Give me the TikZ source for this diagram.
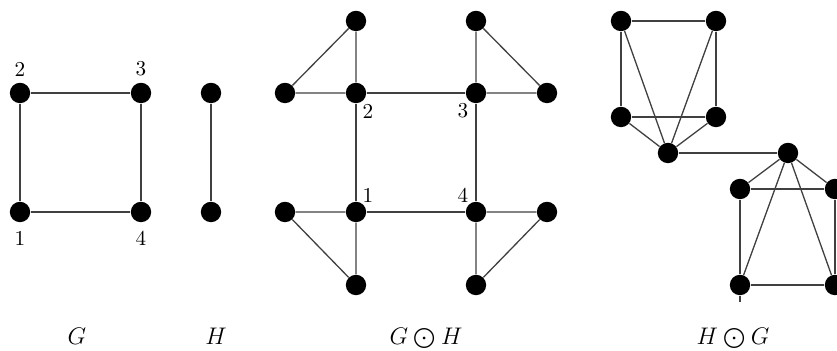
\documentclass[tikz,border=0pt]{standalone}
\begin{document}
\begin{tikzpicture}[x=0.5pt,y=-0.5pt,
  v/.style={circle,fill=black,inner sep=0pt,minimum size=10.2pt},
  e/.style={draw=black!75,line width=0.65pt},
  lab/.style={font=\fontsize{10.6}{12}\selectfont,inner sep=0pt},
  capt/.style={font=\fontsize{11.8}{13}\selectfont,inner sep=0pt,anchor=base}]
\useasboundingbox (0,0) rectangle (837,351);
\clip (0,0) rectangle (837,351);
% G
\node[v] (g2) at (20,93) {};
\node[v] (g3) at (141,93) {};
\node[v] (g1) at (20,212) {};
\node[v] (g4) at (141,212) {};
\draw[e] (g1)--(g2)--(g3)--(g4)--(g1);
\node[lab] at (20,69) {2};
\node[lab] at (141,69) {3};
\node[lab] at (20,238) {1};
\node[lab] at (141,238) {4};
% H
\node[v] (h1) at (211,93) {};
\node[v] (h2) at (211,212) {};
\draw[e] (h1)--(h2);
% G corona H
\node[v] (c2) at (356,93) {};
\node[v] (c3) at (476,93) {};
\node[v] (c1) at (356,212) {};
\node[v] (c4) at (476,212) {};
\node[v] (a2) at (356,21) {};
\node[v] (b2) at (285,93) {};
\node[v] (a3) at (476,21) {};
\node[v] (b3) at (547,93) {};
\node[v] (a1) at (285,212) {};
\node[v] (b1) at (356,285) {};
\node[v] (a4) at (547,212) {};
\node[v] (b4) at (476,285) {};
\draw[e] (c1)--(c2)--(c3)--(c4)--(c1);
\draw[e] (c2)--(a2)--(b2)--(c2);
\draw[e] (c3)--(a3)--(b3)--(c3);
\draw[e] (c1)--(a1)--(b1)--(c1);
\draw[e] (c4)--(a4)--(b4)--(c4);
\node[lab] at (368,111) {2};
\node[lab] at (463,111) {3};
\node[lab] at (368,195) {1};
\node[lab] at (463,195) {4};
% H corona G
\node[v] (p1) at (668,153) {};
\node[v] (u1) at (621,21) {};
\node[v] (u2) at (716,21) {};
\node[v] (u3) at (621,117) {};
\node[v] (u4) at (716,117) {};
\draw[e] (u1)--(u2)--(u4)--(u3)--(u1);
\foreach \n in {u1,u2,u3,u4} \draw[e] (p1)--(\n);
\node[v] (p2) at (788,153) {};
\node[v] (w1) at (740,189) {};
\node[v] (w2) at (835,189) {};
\node[v] (w3) at (740,285) {};
\node[v] (w4) at (835,285) {};
\draw[e] (w1)--(w2)--(w4)--(w3)--(w1);
\foreach \n in {w1,w2,w3,w4} \draw[e] (p2)--(\n);
\draw[e] (p1)--(p2);
\coordinate (st) at (740,302);
\draw[e] (w3)--(st);
% captions
\node[capt] at (77,345) {$G$};
\node[capt] at (216,345) {$H$};
\node[capt] at (426,345) {$G\mathbin{\bigodot}H$};
\node[capt] at (733,345) {$H\mathbin{\bigodot}G$};
\end{tikzpicture}
\end{document}
